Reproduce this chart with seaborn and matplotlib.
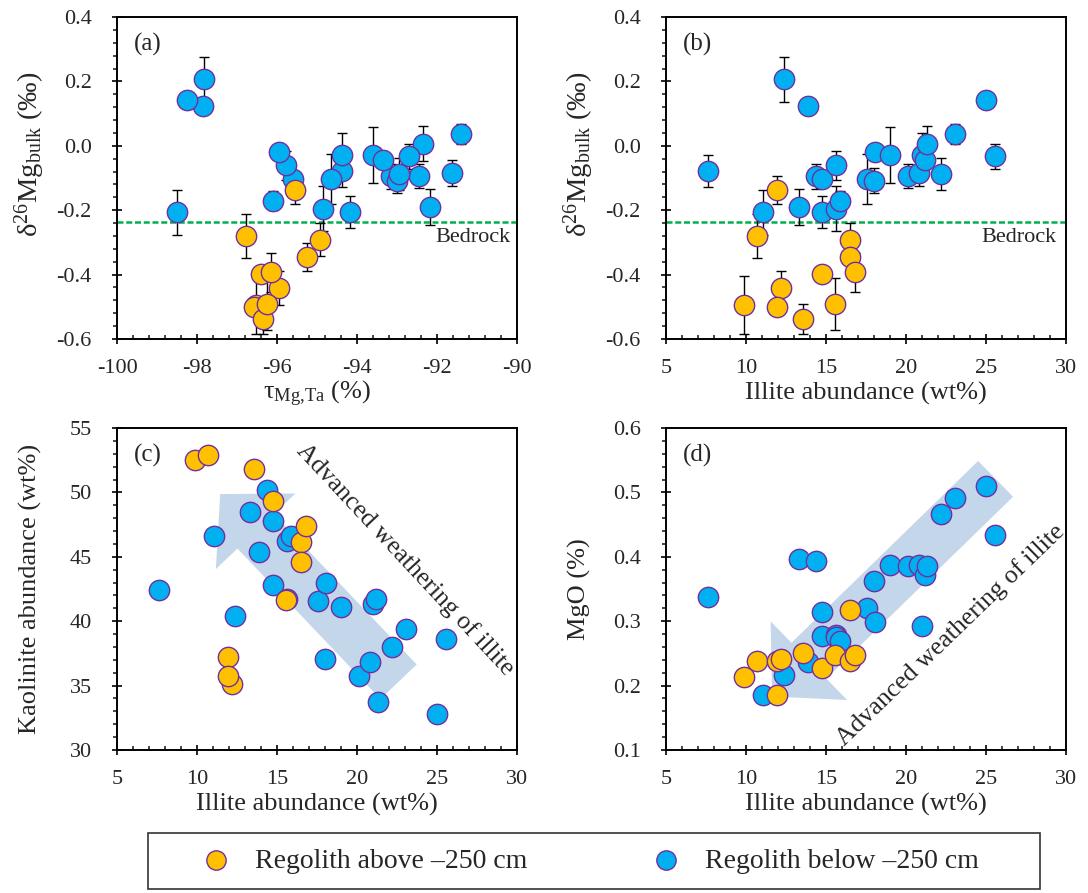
import matplotlib
matplotlib.use('Agg')
import matplotlib.pyplot as plt
import seaborn as sns
from matplotlib.ticker import MultipleLocator, FormatStrFormatter
from matplotlib.patches import Rectangle

# Regolith below -250 cm (blue)
below_illite = [7.62, 11.04, 12.38, 13.33, 13.88, 14.40, 14.73, 14.75, 15.60, 15.65, 15.90, 17.56,
                17.98, 18.04, 18.98, 20.10, 20.83, 21.00, 21.21, 21.31, 22.19, 23.08, 25.02, 25.58]
below_tau = [-94.38, -98.49, -97.82, -92.17, -97.85, -93.15, -94.17, -95.61, -95.78, -94.86, -96.09, -94.65,
             -93.00, -95.95, -93.59, -92.44, -91.62, -94.38, -93.36, -92.34, -92.94, -91.39, -98.24, -92.69]
below_d26 = [-0.079, -0.206, 0.207, -0.190, 0.123, -0.095, -0.205, -0.102, -0.061, -0.196, -0.170, -0.103,
             -0.108, -0.019, -0.029, -0.093, -0.084, -0.030, -0.043, 0.007, -0.087, 0.038, 0.143, -0.033]
below_err = [0.050, 0.070, 0.070, 0.056, 0.0, 0.040, 0.050, 0.020, 0.045, 0.070, 0.030, 0.079,
             0.040, 0.010, 0.088, 0.037, 0.040, 0.070, 0.020, 0.054, 0.049, 0.031, 0.0, 0.040]
below_kaol = [42.4, 46.6, 40.4, 48.5, 45.4, 50.2, 42.8, 47.8, 46.2, 41.7, 46.6, 41.6,
              37.05, 42.95, 41.14, 35.75, 36.87, 41.35, 41.74, 33.76, 37.98, 39.43, 32.80, 38.60]
below_mgo = [0.338, 0.185, 0.216, 0.396, 0.237, 0.393, 0.277, 0.314, 0.279, 0.275, 0.270, 0.321,
             0.363, 0.299, 0.387, 0.386, 0.387, 0.292, 0.371, 0.386, 0.466, 0.492, 0.510, 0.434]

# Regolith above -250 cm (orange)
above_illite = [9.85, 10.69, 11.96, 12.19, 11.96, 13.56, 14.73, 15.54, 16.48, 16.48, 16.83]
above_tau = [-96.52, -96.78, -95.55, -95.95, -96.58, -96.34, -96.39, -96.24, -94.93, -95.26, -96.14]
above_d26 = [-0.494, -0.279, -0.138, -0.441, -0.501, -0.538, -0.397, -0.491, -0.292, -0.346, -0.393]
above_err = [0.090, 0.068, 0.043, 0.052, 0.020, 0.048, 0.020, 0.080, 0.051, 0.043, 0.060]
above_kaol = [52.49, 52.93, 37.2, 35.1, 35.75, 51.81, 49.3, 41.66, 46.14, 44.56, 47.36]
above_mgo = [0.213, 0.238, 0.238, 0.242, 0.186, 0.251, 0.227, 0.248, 0.318, 0.238, 0.247]

bedrock_d26 = -0.236

ORANGE = '#FFC000'
BLUE = '#00B0F0'
EDGE = '#7030A0'
ARROW = '#C4D6EA'

sns.set_style('ticks')
plt.rcParams['font.family'] = ['Liberation Serif', 'DejaVu Serif']
plt.rcParams['mathtext.fontset'] = 'custom'
plt.rcParams['mathtext.rm'] = 'Liberation Serif'
plt.rcParams['mathtext.it'] = 'Liberation Serif:italic'
plt.rcParams['axes.unicode_minus'] = False

W, H = 1088, 893
fig = plt.figure(figsize=(W / 100, H / 100), dpi=100)


def add_axes_px(left, top, right, bottom):
    return fig.add_axes([left / W, 1 - bottom / H, (right - left) / W, (bottom - top) / H])


def style_axes(ax, xlim, ylim, xmaj, xmin, ymaj, ymin, xfmt, yfmt):
    ax.set_xlim(xlim)
    ax.set_ylim(ylim)
    ax.xaxis.set_major_locator(MultipleLocator(xmaj))
    ax.xaxis.set_minor_locator(MultipleLocator(xmin))
    ax.yaxis.set_major_locator(MultipleLocator(ymaj))
    ax.yaxis.set_minor_locator(MultipleLocator(ymin))
    ax.xaxis.set_major_formatter(FormatStrFormatter(xfmt))
    ax.yaxis.set_major_formatter(FormatStrFormatter(yfmt))
    ax.tick_params(which='major', direction='inout', length=6.5, width=1.2, labelsize=16, color='black')
    ax.tick_params(axis='x', which='major', pad=11)
    ax.tick_params(axis='y', which='major', pad=15)
    ax.tick_params(axis='x', which='minor', direction='in', length=3.2, width=1.2)
    ax.tick_params(axis='y', which='minor', direction='out', length=3.2, width=1.2)
    for sp in ax.spines.values():
        sp.set_linewidth(1.4)
        sp.set_color('black')
        sp.set_visible(True)


def set_labels(ax, xlabel, ylabel, ypos=0.5, ylabel_size=19):
    ax.set_xlabel(xlabel, fontsize=19)
    ax.set_ylabel(ylabel, fontsize=ylabel_size)
    ax.xaxis.set_label_coords(0.5, -0.17)
    ax.yaxis.set_label_coords(-0.217, ypos)
    ax.xaxis.label.set_verticalalignment('center')
    ax.yaxis.label.set_verticalalignment('center')


def draw_points(ax, x_b, y_b, x_a, y_a, err_b=None, err_a=None):
    if err_b is not None:
        ax.errorbar(x_b, y_b, yerr=err_b, fmt='none', ecolor='black', elinewidth=1.0,
                    capsize=3.5, capthick=1.0, zorder=2)
        ax.errorbar(x_a, y_a, yerr=err_a, fmt='none', ecolor='black', elinewidth=1.0,
                    capsize=3.5, capthick=1.0, zorder=2)
    sns.scatterplot(x=x_b, y=y_b, ax=ax, color=BLUE, edgecolor=EDGE, linewidth=1.0,
                    s=215, zorder=3, label='Regolith below \u2013250 cm')
    sns.scatterplot(x=x_a, y=y_a, ax=ax, color=ORANGE, edgecolor=EDGE, linewidth=1.0,
                    s=215, zorder=4, label='Regolith above \u2013250 cm')


def fat_arrow(ax, tail, tip):
    ax.annotate('', xy=tip, xytext=tail,
                arrowprops=dict(arrowstyle='simple,head_width=7.9,head_length=3.7,tail_width=3.6',
                                mutation_scale=10, color=ARROW, lw=0, shrinkA=0, shrinkB=0),
                zorder=1)


ax_a = add_axes_px(117, 17, 517, 339)
ax_b = add_axes_px(666, 17, 1066, 339)
ax_c = add_axes_px(117, 428, 517, 750)
ax_d = add_axes_px(666, 428, 1066, 750)

d26_label = '\u03b4$^{26}$Mg$_{\\rm bulk}$ (\u2030)'
illite_label = 'Illite abundance (wt%)'

# (a)
draw_points(ax_a, below_tau, below_d26, above_tau, above_d26, below_err, above_err)
ax_a.axhline(bedrock_d26, color='#00B050', lw=1.8, dashes=(2.4, 1.1), zorder=1.5)
style_axes(ax_a, (-100, -90), (-0.6, 0.4), 2, 0.4, 0.2, 0.04, '%d', '%.1f')
ax_a.text(0.985, -0.285, 'Bedrock', transform=ax_a.get_yaxis_transform(),
          ha='right', va='center', fontsize=16)
set_labels(ax_a, '\u03c4$_{\\rm Mg{,}Ta}$ (%)', d26_label, ypos=0.575, ylabel_size=20.5)

# (b)
draw_points(ax_b, below_illite, below_d26, above_illite, above_d26, below_err, above_err)
ax_b.axhline(bedrock_d26, color='#00B050', lw=1.8, dashes=(2.4, 1.1), zorder=1.5)
style_axes(ax_b, (5, 30), (-0.6, 0.4), 5, 1, 0.2, 0.04, '%d', '%.1f')
ax_b.text(0.975, -0.285, 'Bedrock', transform=ax_b.get_yaxis_transform(),
          ha='right', va='center', fontsize=16)
set_labels(ax_b, illite_label, d26_label, ypos=0.575, ylabel_size=20.5)

# (c)
fat_arrow(ax_c, (22.6, 35.3), (11.45, 49.87))
draw_points(ax_c, below_illite, below_kaol, above_illite, above_kaol)
style_axes(ax_c, (5, 30), (30, 55), 5, 1, 5, 1, '%d', '%d')
ax_c.text(23.0, 44.8, 'Advanced weathering of illite', rotation=-47, rotation_mode='anchor',
          ha='center', va='center', fontsize=18.5)
set_labels(ax_c, illite_label, 'Kaolinite abundance (wt%)')

# (d)
fat_arrow(ax_d, (25.6, 0.521), (11.63, 0.183))
draw_points(ax_d, below_illite, below_mgo, above_illite, above_mgo)
style_axes(ax_d, (5, 30), (0.1, 0.6), 5, 1, 0.1, 0.02, '%d', '%.1f')
ax_d.text(22.8, 0.279, 'Advanced weathering of illite', rotation=44, rotation_mode='anchor',
          ha='center', va='center', fontsize=18.5)
set_labels(ax_d, illite_label, 'MgO (%)')

for ax, tag in zip([ax_a, ax_b, ax_c, ax_d], ['(a)', '(b)', '(c)', '(d)']):
    ax.text(0.043, 0.95, tag, transform=ax.transAxes, ha='left', va='top', fontsize=18)

# shared legend in a box under the panels
handles, labels = ax_a.get_legend_handles_labels()
for ax in [ax_a, ax_b, ax_c, ax_d]:
    if ax.get_legend() is not None:
        ax.get_legend().remove()
order = [1, 0]
fig.patches.append(Rectangle((148 / W, 1 - 889 / H), 892 / W, 56 / H, transform=fig.transFigure,
                             fill=False, edgecolor='#333333', linewidth=1.2))
fig.legend([handles[i] for i in order], [labels[i] for i in order],
           loc='center left', bbox_to_anchor=(202 / W, 1 - 861 / H), ncol=2, frameon=False,
           fontsize=20, handlelength=1.0, handletextpad=0.9, columnspacing=4.5,
           borderpad=0, borderaxespad=0, markerscale=0.95)

fig.savefig('out.png', dpi=100)
